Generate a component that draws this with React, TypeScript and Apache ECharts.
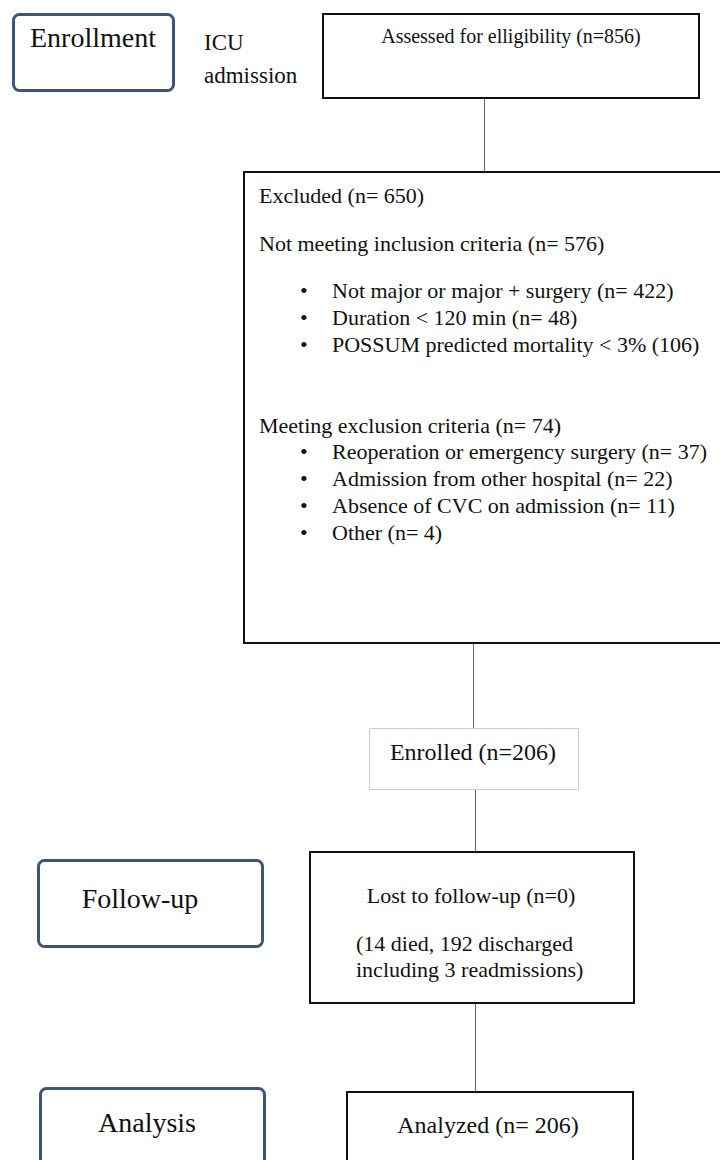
import React, { useEffect, useRef } from "react";
import * as echarts from "echarts";

// Phase labels (left rounded boxes)
const phaseLabels = ["Enrollment", "Follow-up", "Analysis"];
const sideNote = ["ICU", "admission"];
// Flow box texts
const assessedText = "Assessed for elligibility (n=856)";
const excludedTitle = "Excluded (n= 650)";
const inclusionTitle = "Not meeting inclusion criteria (n= 576)";
const inclusionItems = [
  "Not major or major + surgery (n= 422)",
  "Duration < 120 min (n= 48)",
  "POSSUM predicted mortality < 3% (106)",
];
const exclusionTitle = "Meeting exclusion criteria (n= 74)";
const exclusionItems = [
  "Reoperation or emergency surgery (n= 37)",
  "Admission from other hospital (n= 22)",
  "Absence of CVC on admission (n= 11)",
  "Other (n= 4)",
];
const enrolledText = "Enrolled (n=206)";
const lostText = "Lost to follow-up (n=0)";
const lostNotes = ["(14 died, 192 discharged", "including 3 readmissions)"];
const analyzedText = "Analyzed (n= 206)";

const FONT = "'Liberation Serif', 'Times New Roman', serif";
const BLUE = "#3f5577";

function T(text: string, x: number, baseline: number, size: number, align: string = "left") {
  return {
    type: "text",
    silent: true,
    style: {
      text,
      x,
      y: baseline - 0.34 * size,
      fill: "#111",
      font: `${size}px ${FONT}`,
      align,
      verticalAlign: "middle",
    },
  };
}
function R(x: number, y: number, w: number, h: number, stroke: string, lw: number, r = 0) {
  return {
    type: "rect",
    silent: true,
    shape: { x, y, width: w, height: h, r },
    style: { fill: "#fff", stroke, lineWidth: lw },
  };
}
function L(x: number, y1: number, y2: number) {
  return {
    type: "line",
    silent: true,
    shape: { x1: x, y1, x2: x, y2 },
    style: { stroke: "#666", lineWidth: 1 },
  };
}

export default function App() {
  const ref = useRef<HTMLDivElement>(null);
  useEffect(() => {
    if (!ref.current) return;
    const chart = echarts.init(ref.current, undefined, { renderer: "svg" });
    const els: any[] = [];
    // connectors
    els.push(L(484.5, 98, 172));
    els.push(L(473.5, 643, 728));
    els.push(L(475.5, 789, 851));
    els.push(L(475.5, 1003, 1091));
    // Enrollment
    els.push(R(13.5, 14.5, 160, 76, BLUE, 3, 6));
    els.push(T(phaseLabels[0], 93, 47, 28, "center"));
    els.push(T(sideNote[0], 204, 50, 23));
    els.push(T(sideNote[1], 204, 83, 23));
    // Assessed
    els.push(R(323, 14, 376, 84, "#111", 2));
    els.push(T(assessedText, 511, 43, 20, "center"));
    // Excluded
    els.push(R(244, 172, 490, 471, "#111", 2));
    els.push(T(excludedTitle, 259, 203, 22));
    els.push(T(inclusionTitle, 259, 251, 22));
    const incBase = [298, 325, 352];
    inclusionItems.forEach((t, i) => {
      els.push(T("\u2022", 300, incBase[i], 22));
      els.push(T(t, 332, incBase[i], 22));
    });
    els.push(T(exclusionTitle, 259, 433, 22));
    const excBase = [459, 486, 513, 540];
    exclusionItems.forEach((t, i) => {
      els.push(T("\u2022", 300, excBase[i], 22));
      els.push(T(t, 332, excBase[i], 22));
    });
    // Enrolled
    els.push(R(369.5, 728.5, 209, 61, "#cfcfcf", 1));
    els.push(T(enrolledText, 473, 760, 24, "center"));
    // Follow-up
    els.push(R(38.5, 860.5, 224, 86, BLUE, 3, 6));
    els.push(T(phaseLabels[1], 140, 908, 28, "center"));
    els.push(R(310, 852, 324, 151, "#111", 2));
    els.push(T(lostText, 471, 903, 22, "center"));
    els.push(T(lostNotes[0], 356, 951, 22));
    els.push(T(lostNotes[1], 356, 977, 22));
    // Analysis
    els.push(R(40.5, 1088.5, 224, 100, BLUE, 3, 6));
    els.push(T(phaseLabels[2], 147, 1132, 28, "center"));
    els.push(R(347, 1092, 286, 100, "#111", 2));
    els.push(T(analyzedText, 488, 1133, 24, "center"));

    chart.setOption({
      animation: false,
      backgroundColor: "#fff",
      graphic: { elements: els },
    });
    return () => chart.dispose();
  }, []);
  return (
    <div
      ref={ref}
      style={{ position: "absolute", left: 0, top: 0, width: 720, height: 1160, background: "#fff" }}
    />
  );
}
